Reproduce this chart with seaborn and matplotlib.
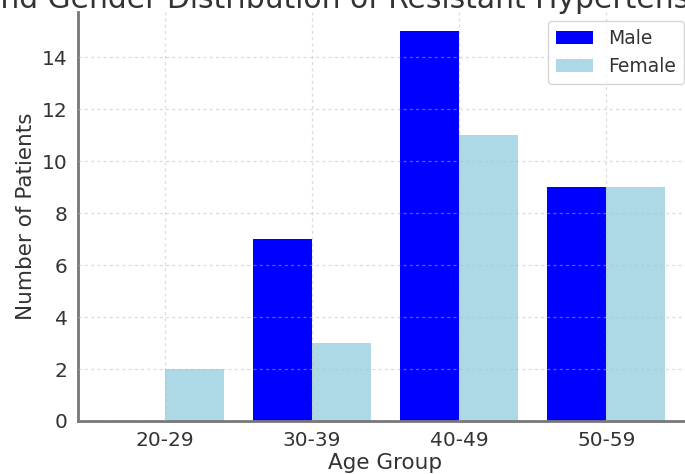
import matplotlib
matplotlib.use('Agg')
import matplotlib.pyplot as plt
import pandas as pd
import seaborn as sns

# Data
age_groups = ['20-29', '30-39', '40-49', '50-59']
male_counts = [0, 7, 15, 9]
female_counts = [2, 3, 11, 9]

df = pd.DataFrame({
    'Age Group': age_groups * 2,
    'Number of Patients': male_counts + female_counts,
    'Gender': ['Male'] * len(age_groups) + ['Female'] * len(age_groups),
})

sns.set_style('white')
plt.rcParams['font.family'] = ['DejaVu Sans']
text_color = '#333333'

fig = plt.figure(figsize=(6.85, 4.74), dpi=100)
ax = fig.add_axes([78 / 685, 53 / 474, 615 / 685, 409 / 474])

sns.barplot(data=df, x='Age Group', y='Number of Patients', hue='Gender',
            palette=['blue', 'lightblue'], saturation=1, width=0.8,
            linewidth=0, ax=ax)

ax.set_xlim(-0.59, 3.59)
ax.set_ylim(0, 15.75)
ax.set_axisbelow(False)
ax.grid(True, linestyle=(0, (2.5, 2.5)), color='#bbbbbb', alpha=0.5, linewidth=0.9)

for side in ['top', 'right']:
    ax.spines[side].set_visible(False)
for side in ['left', 'bottom']:
    ax.spines[side].set_color('#777777')
    ax.spines[side].set_linewidth(2)

ax.tick_params(axis='both', labelsize=14.5, colors=text_color, length=4, color='#777777')
ax.set_xlabel('Age Group', fontsize=15.5, color=text_color, labelpad=2)
ax.set_ylabel('Number of Patients', fontsize=15.5, color=text_color)
ax.set_title('Age and Gender Distribution of Resistant Hypertension', fontsize=21.4,
             color=text_color, pad=3, x=0.402)

leg = ax.legend(loc='upper right', fontsize=13.5, frameon=True)
for t in leg.get_texts():
    t.set_color(text_color)

fig.savefig('out.png', dpi=100)
